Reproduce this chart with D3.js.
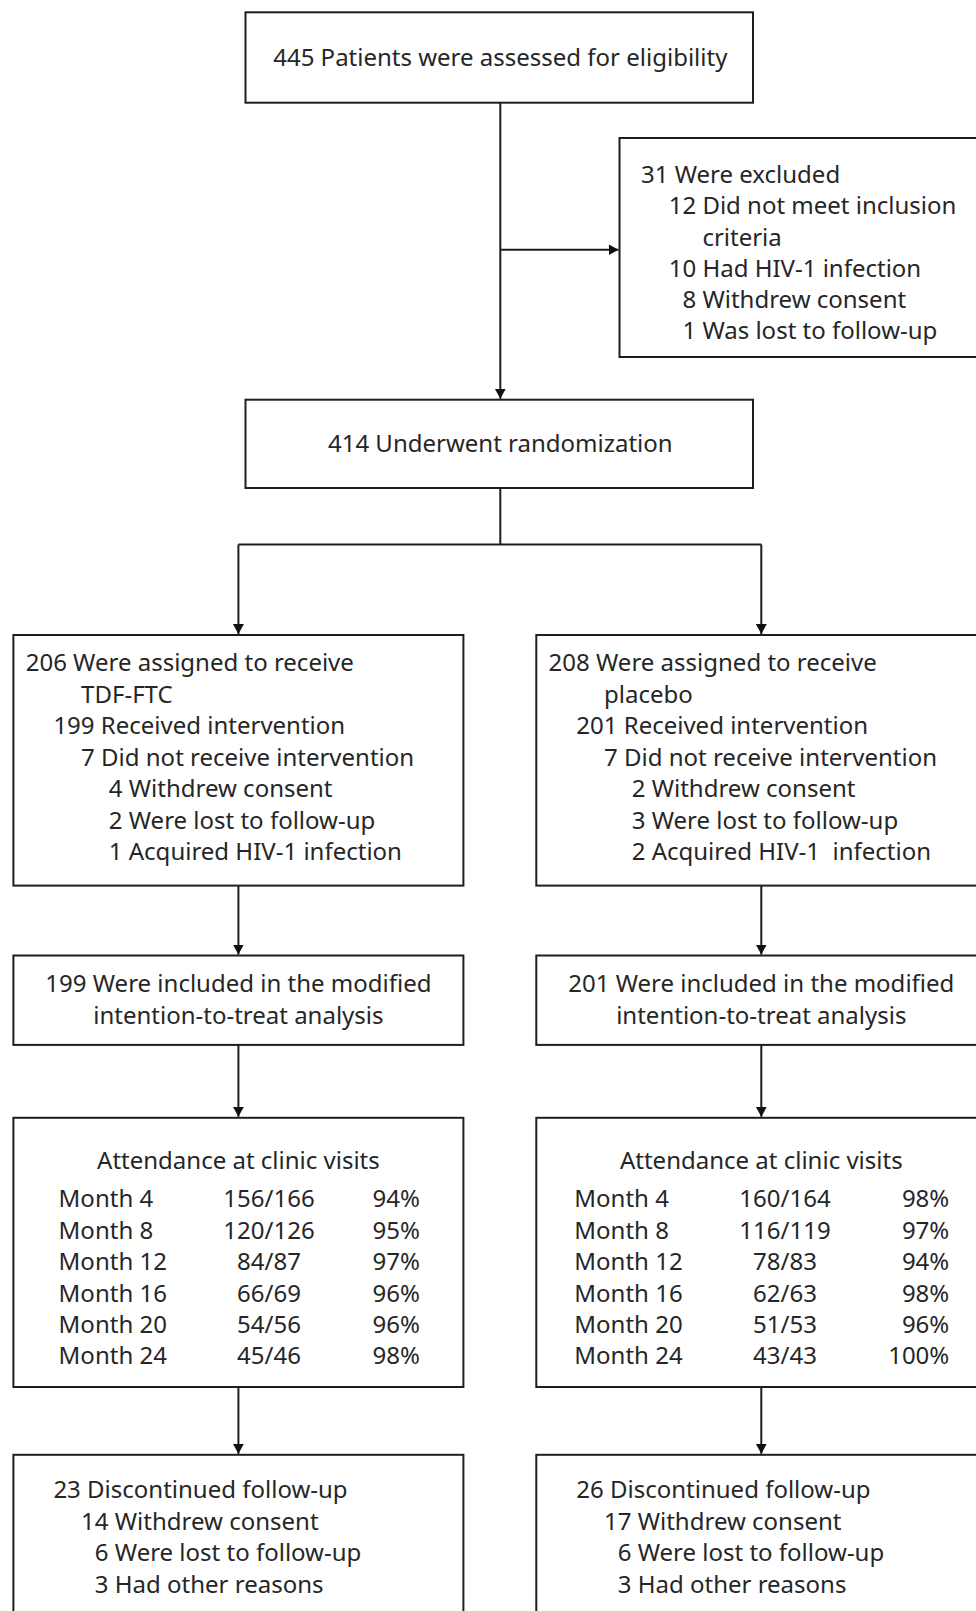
<!DOCTYPE html>
<html><head><meta charset="utf-8">
<script src="https://cdn.jsdelivr.net/npm/d3@7"></script>
<style>
html,body{margin:0;padding:0;background:#fff;}
svg{display:block;}
text{font-family:"Noto Sans",sans-serif;fill:#262626;white-space:pre;}
</style></head><body>
<svg id="c" width="976" height="1611"></svg>
<script>
// ---------- data ----------
const FS = "\u2007"; // figure space (digit width) for aligning single-digit counts
const screenedText = "445 Patients were assessed for eligibility";
const excludedLines = [
  {lvl:0, t:"31 Were excluded"},
  {lvl:1, t:"12 Did not meet inclusion"},
  {lvl:1, t:FS+FS+" criteria"},
  {lvl:1, t:"10 Had HIV-1 infection"},
  {lvl:1, t:FS+"8 Withdrew consent"},
  {lvl:1, t:FS+"1 Was lost to follow-up"}
];
const randomizedText = "414 Underwent randomization";
const arms = ["TDF-FTC", "Placebo"];
const allocationLines = [
  [
    {lvl:0, t:"206 Were assigned to receive"},
    {lvl:2, t:"TDF-FTC"},
    {lvl:1, t:"199 Received intervention"},
    {lvl:2, t:"7 Did not receive intervention"},
    {lvl:3, t:"4 Withdrew consent"},
    {lvl:3, t:"2 Were lost to follow-up"},
    {lvl:3, t:"1 Acquired HIV-1 infection"}
  ],
  [
    {lvl:0, t:"208 Were assigned to receive"},
    {lvl:2, t:"placebo"},
    {lvl:1, t:"201 Received intervention"},
    {lvl:2, t:"7 Did not receive intervention"},
    {lvl:3, t:"2 Withdrew consent"},
    {lvl:3, t:"3 Were lost to follow-up"},
    {lvl:3, t:"2 Acquired HIV-1  infection"}
  ]
];
const analysisLines = [
  ["199 Were included in the modified", "intention-to-treat analysis"],
  ["201 Were included in the modified", "intention-to-treat analysis"]
];
const attendanceTitle = "Attendance at clinic visits";
const visitMonths = ["Month 4","Month 8","Month 12","Month 16","Month 20","Month 24"];
const attendedTDF   = [156, 120, 84, 66, 54, 45];
const scheduledTDF  = [166, 126, 87, 69, 56, 46];
const percentTDF    = [94, 95, 97, 96, 96, 98];
const attendedPlac  = [160, 116, 78, 62, 51, 43];
const scheduledPlac = [164, 119, 83, 63, 53, 43];
const percentPlac   = [98, 97, 94, 98, 96, 100];
const followupLines = [
  [
    {lvl:1, t:"23 Discontinued follow-up"},
    {lvl:2, t:"14 Withdrew consent"},
    {lvl:2, t:FS+"6 Were lost to follow-up"},
    {lvl:2, t:FS+"3 Had other reasons"}
  ],
  [
    {lvl:1, t:"26 Discontinued follow-up"},
    {lvl:2, t:"17 Withdrew consent"},
    {lvl:2, t:FS+"6 Were lost to follow-up"},
    {lvl:2, t:FS+"3 Had other reasons"}
  ]
];

// ---------- layout ----------
const svg = d3.select("#c");
const FONT = 24;
const STROKE = "#1e1e1e";
const indent = 27.7;
const lineH = 31.5;

svg.append("defs").append("marker")
  .attr("id","arr").attr("viewBox","0 0 10 14").attr("refX",10).attr("refY",7)
  .attr("markerWidth",10).attr("markerHeight",14).attr("markerUnits","userSpaceOnUse")
  .attr("orient","auto")
  .append("path").attr("d","M0,1.5 L10,7 L0,12.5 Z").attr("fill","#111");

const xArm = d3.scalePoint().domain(arms).range([238.4, 761.3]);
const armW = 450;
const midX = 500.3;

function box(x,y,w,h){
  svg.append("rect").attr("x",x).attr("y",y).attr("width",w).attr("height",h)
    .attr("fill","#fff").attr("stroke",STROKE).attr("stroke-width",2);
}
function line(pts, arrow){
  const p = svg.append("path").attr("d", d3.line()(pts))
    .attr("fill","none").attr("stroke",STROKE).attr("stroke-width",2);
  if(arrow) p.attr("marker-end","url(#arr)");
}
function txt(x,y,s,anchor){
  return svg.append("text").attr("x",x).attr("y",y).attr("dy","0.35em")
    .attr("font-size",FONT).attr("text-anchor",anchor||"start").text(s);
}
function list(x0,y0,lines){
  const y = d3.scaleLinear().domain([0,1]).range([y0,y0+lineH]);
  lines.forEach((d,i)=>txt(x0+d.lvl*indent, y(i), d.t));
}

// connectors
line([[midX,102.7],[midX,398.7]], true);
line([[midX,249.7],[618.5,249.7]], true);
line([[midX,488],[midX,544.5]]);
line([[xArm(arms[0]),544.5],[xArm(arms[1]),544.5]]);
arms.forEach(a=>{
  const x = xArm(a);
  line([[x,544.5],[x,634]], true);
  line([[x,885.6],[x,954.5]], true);
  line([[x,1044.9],[x,1116.8]], true);
  line([[x,1387],[x,1453.8]], true);
});

// top boxes
box(245.5,12.3,507.5,90.4);
txt(midX,57.5,screenedText,"middle");
box(619.5,138,400,219);
{
  const y = d3.scaleLinear().domain([0,1]).range([174.7,174.7+31.2]);
  excludedLines.forEach((d,i)=>txt(641+d.lvl*indent, y(i), d.t));
}
box(245.5,399.7,507.5,88.3);
txt(midX,443.8,randomizedText,"middle");

// arm boxes
const tables = [
  {att:attendedTDF, sch:scheduledTDF, pct:percentTDF},
  {att:attendedPlac, sch:scheduledPlac, pct:percentPlac}
];
arms.forEach((a,k)=>{
  const cx = xArm(a), left = cx - armW/2;
  box(left,635,armW,250.6);
  list(left+12.3, 662.7, allocationLines[k]);

  box(left,955.5,armW,89.4);
  analysisLines[k].forEach((s,i)=>txt(cx, 983.2+i*32.8, s, "middle"));

  box(left,1117.8,armW,269.2);
  txt(cx,1161,attendanceTitle,"middle");
  const ry = d3.scaleBand().domain(visitMonths).range([1183.3,1183.3+31.4*6]);
  const colM = left + (k===0?45.2:38);
  const colF = left + (k===0?255.6:248.7);
  const colP = left + (k===0?406.6:413);
  const t = tables[k];
  visitMonths.forEach((m,i)=>{
    const yy = ry(m)+ry.bandwidth()/2;
    txt(colM, yy, m);
    txt(colF, yy, t.att[i]+"/"+t.sch[i], "middle");
    txt(colP, yy, t.pct[i]+"%", "end");
  });

  box(left,1454.8,armW,220);
  list(left+12.3, 1489.7, followupLines[k]);
});
</script>
</body></html>
